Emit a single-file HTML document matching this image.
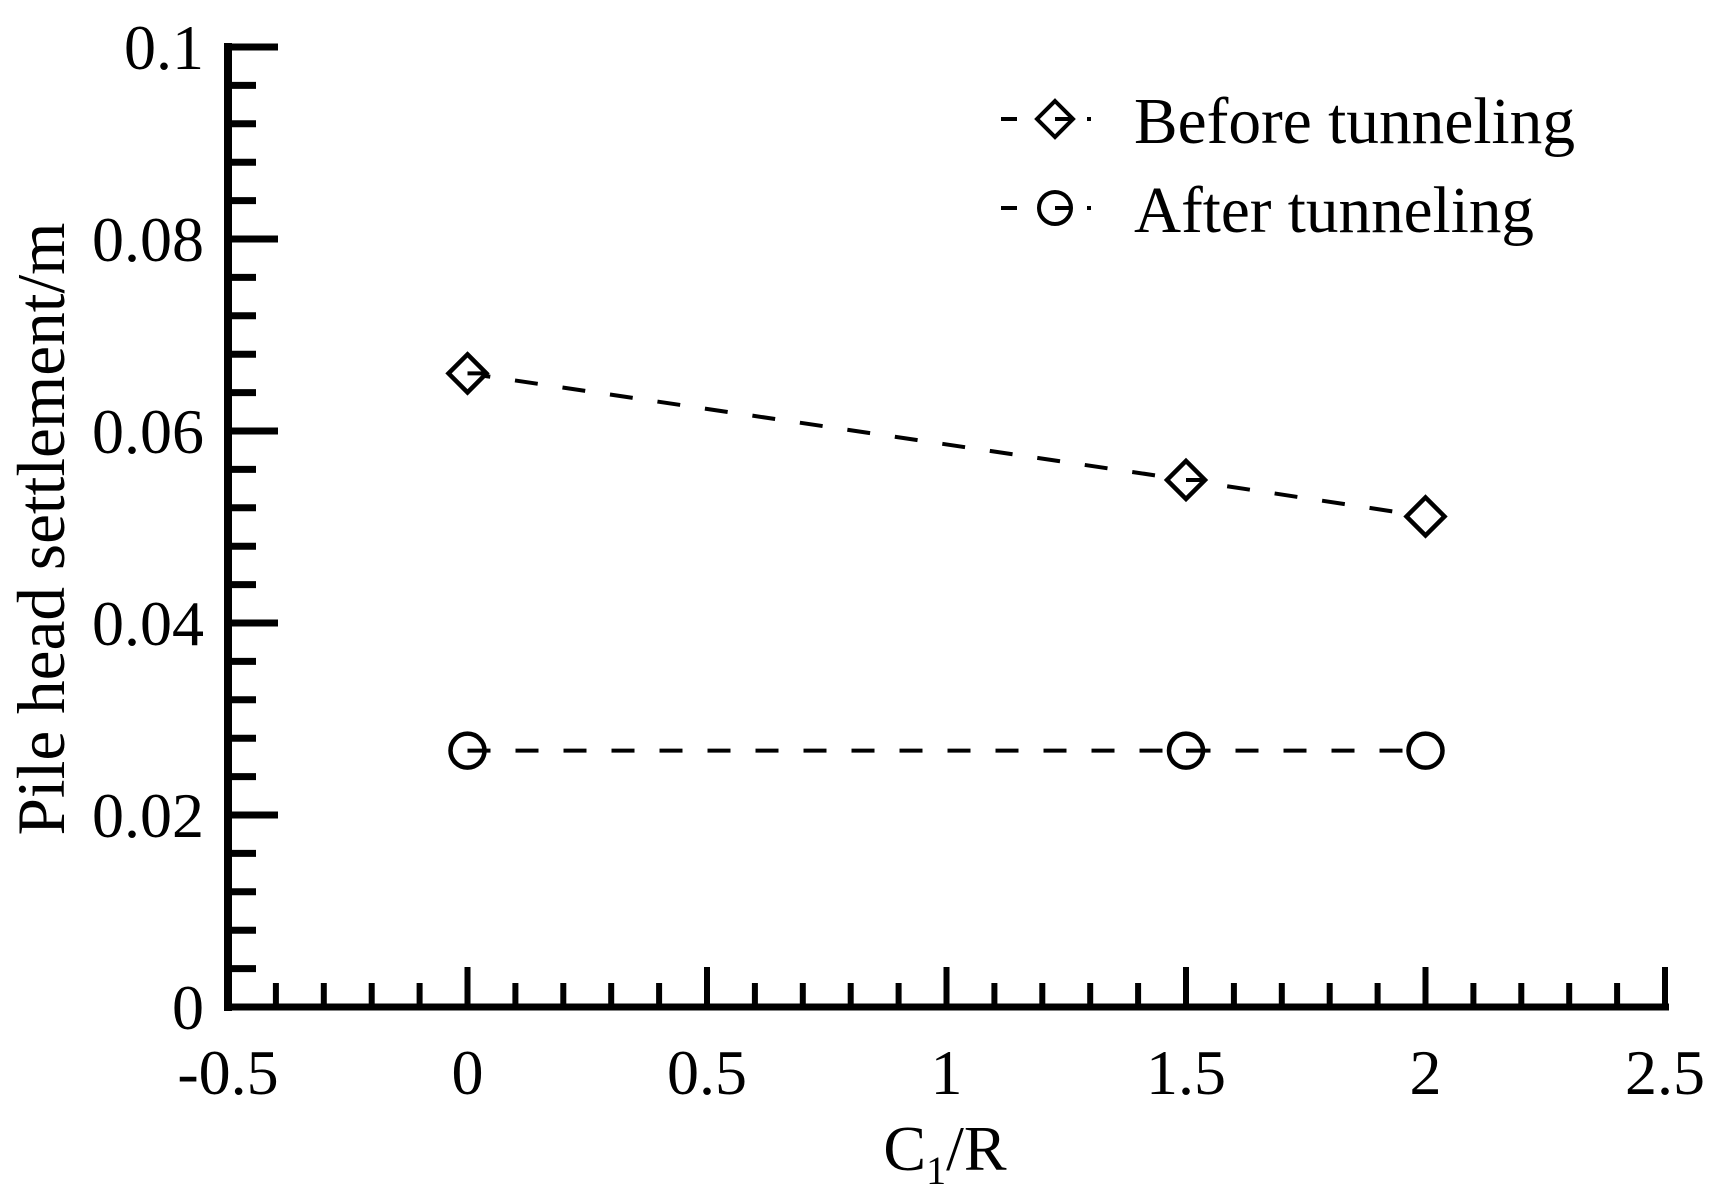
<!DOCTYPE html>
<html><head><meta charset="utf-8"><style>
html,body{margin:0;padding:0;background:#fff;}
svg{display:block;font-family:"Liberation Serif","Times New Roman",serif;}
</style></head><body>
<svg id="chart" width="1732" height="1198" viewBox="0 0 1732 1198"></svg>
<script>
const categories = [0, 1.5, 2];
const beforeValues = [0.066, 0.0549, 0.0511];
const afterValues = [0.0267, 0.0267, 0.0267];
const xTickLabels = ["-0.5", "0", "0.5", "1", "1.5", "2", "2.5"];
const yTickLabels = ["0", "0.02", "0.04", "0.06", "0.08", "0.1"];

const NS = "http://www.w3.org/2000/svg";
const svg = document.getElementById("chart");
const X0 = 228, X1 = 1665, Y0 = 1007, Y1 = 47;
const xMin = -0.5, xMax = 2.5, yMin = 0, yMax = 0.1;
function xs(v){ return X0 + (v - xMin) / (xMax - xMin) * (X1 - X0); }
function ys(v){ return Y0 - (v - yMin) / (yMax - yMin) * (Y0 - Y1); }
function mk(tag, attrs, parent){
  const e = document.createElementNS(NS, tag);
  for (const k in attrs) e.setAttribute(k, attrs[k]);
  (parent || svg).appendChild(e);
  return e;
}

const axes = mk("g", {});


const yAxis = mk("line", {x1: X0, y1: Y1 - 4, x2: X0, y2: Y0 + 4, stroke: "#000", "stroke-width": 8}, axes);


const xAxis = mk("line", {x1: X0 - 4, y1: Y0, x2: X1 + 4, y2: Y0, stroke: "#000", "stroke-width": 7}, axes);



for (let i = 1; i <= 25; i++) {
  const v = i * 0.004;
  const major = i % 5 === 0;
  const t = mk("line", {x1: X0, y1: ys(v), x2: X0 + (major ? 50 : 28), y2: ys(v), stroke: "#000", "stroke-width": 7}, axes);
  
  
}
yTickLabels.forEach((lab, i) => {
  const v = i * 0.02;
  const t = mk("text", {x: 204, y: ys(v) + 22, "text-anchor": "end", "font-size": 64, fill: "#000"}, axes);
  t.textContent = lab;
  
  
});

for (let i = 1; i <= 30; i++) {
  const v = -0.5 + i * 0.1;
  const major = i % 5 === 0;
  const t = mk("line", {x1: xs(v), y1: Y0, x2: xs(v), y2: Y0 - (major ? 40 : 24), stroke: "#000", "stroke-width": 6}, axes);
  
  
}
xTickLabels.forEach((lab, i) => {
  const v = -0.5 + i * 0.5;
  const t = mk("text", {x: xs(v), y: 1094, "text-anchor": "middle", "font-size": 64, fill: "#000"}, axes);
  t.textContent = lab;
  
  
});

const xt = mk("text", {x: 945, y: 1170, "text-anchor": "middle", "font-size": 64, fill: "#000"});
xt.innerHTML = 'C<tspan font-size="40" dy="14">1</tspan><tspan dy="-14">/R</tspan>';


const yt = mk("text", {x: 0, y: 0, "text-anchor": "middle", "font-size": 68, fill: "#000", textLength: 613, lengthAdjust: "spacingAndGlyphs", transform: "translate(64,529) rotate(-90)"});
yt.textContent = "Pile head settlement/m";



function series(vals, name, marker){
  const g = mk("g", {});
  
  
  const pts = categories.map((c, i) => xs(c) + "," + ys(vals[i])).join(" ");
  const pl = mk("polyline", {points: pts, fill: "none", stroke: "#000", "stroke-width": 4, "stroke-dasharray": "23 25"}, g);
  
  
  categories.forEach((c, i) => {
    const cx = xs(c), cy = ys(vals[i]);
    let m;
    if (marker === "diamond") {
      m = mk("polygon", {points: `${cx},${cy-19} ${cx+19},${cy} ${cx},${cy+19} ${cx-19},${cy}`, fill: "#fff", stroke: "#000", "stroke-width": 4.5}, g);
    } else {
      m = mk("circle", {cx: cx, cy: cy, r: 17, fill: "#fff", stroke: "#000", "stroke-width": 4.5}, g);
    }
    
    
    if (i < categories.length - 1) {
      const h = mk("line", {x1: cx, y1: cy, x2: cx + 17, y2: cy, stroke: "#000", "stroke-width": 4}, g);
      
      
    }
  });
}
series(beforeValues, "before-tunneling-series", "diamond");
series(afterValues, "after-tunneling-series", "circle");

const lg = mk("g", {});


function legendEntry(y, label, marker, name, len){
  const g = mk("g", {}, lg);
  
  
  mk("line", {x1: 1001, y1: y, x2: 1017, y2: y, stroke: "#000", "stroke-width": 4}, g);
  if (marker === "diamond") {
    mk("polygon", {points: `1055,${y-18} 1073,${y} 1055,${y+18} 1037,${y}`, fill: "#fff", stroke: "#000", "stroke-width": 4}, g);
  } else {
    mk("circle", {cx: 1055, cy: y, r: 16, fill: "#fff", stroke: "#000", "stroke-width": 4}, g);
  }
  mk("line", {x1: 1055, y1: y, x2: 1071, y2: y, stroke: "#000", "stroke-width": 4}, g);
  mk("rect", {x: 1087, y: y - 2, width: 4, height: 4, fill: "#000"}, g);
  const t = mk("text", {x: 1134, y: y + 24, "font-size": 66, fill: "#000", textLength: len, lengthAdjust: "spacingAndGlyphs"}, g);
  t.textContent = label;
  
  
}
legendEntry(119, "Before tunneling", "diamond", "legend-entry-before", 441);
legendEntry(208, "After tunneling", "circle", "legend-entry-after", 400);
</script>
</body></html>
